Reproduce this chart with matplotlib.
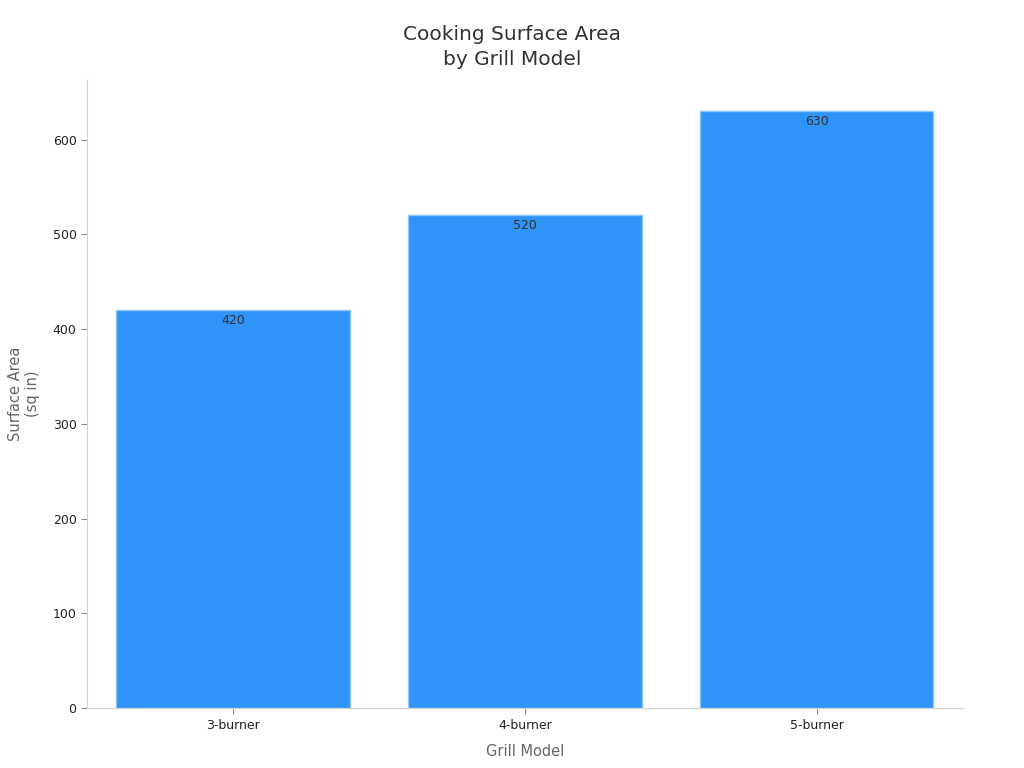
import matplotlib.pyplot as plt

# данные
models = ["3-burner", "4-burner", "5-burner"]
area = [420, 520, 630]

fig = plt.figure(figsize=(10.24, 7.68), dpi=100)
ax = fig.add_axes([0.085, 0.078, 0.855, 0.818])

bars = ax.bar(models, area, width=0.8, color="#2f93f8", edgecolor="#8cc4fb", linewidth=1)
for b, v in zip(bars, area):
    ax.text(b.get_x() + b.get_width() / 2, v - 4, str(v), ha="center", va="top",
            fontsize=9, color="#333333")

ax.set_xlim(-0.5, 2.5)
ax.set_ylim(0, 663)
ax.set_yticks([0, 100, 200, 300, 400, 500, 600])

for s in ["top", "right"]:
    ax.spines[s].set_visible(False)
for s in ["left", "bottom"]:
    ax.spines[s].set_color("#d0d0d0")
ax.tick_params(axis="both", labelsize=9, colors="#222222", length=4)
ax.tick_params(axis="both", color="#888888")

ax.set_xlabel("Grill Model", fontsize=10.5, color="#666666", labelpad=9)
ax.set_ylabel("Surface Area\n(sq in)", fontsize=10.5, color="#666666", labelpad=9)
fig.suptitle("Cooking Surface Area\nby Grill Model", fontsize=14.5, color="#333333",
             x=0.5, y=0.968, linespacing=1.4)

fig.savefig("out.png", dpi=100)
